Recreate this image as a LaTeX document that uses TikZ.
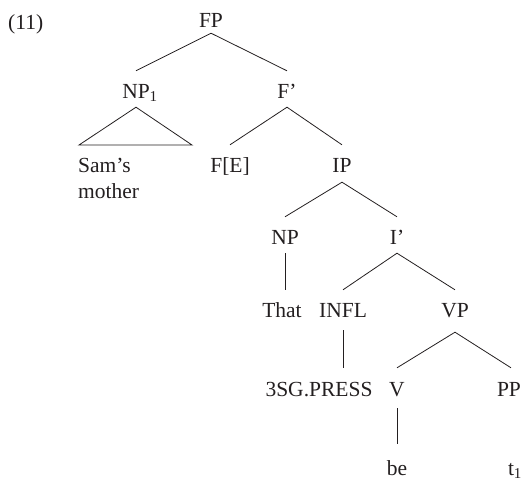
\documentclass[tikz,border=0pt]{standalone}
\usepackage{fontspec}
\setmainfont{Liberation Serif}
\definecolor{ink}{HTML}{231F20}
\begin{document}
\begin{tikzpicture}[x=1pt,y=-1pt,
  lv/.style={inner sep=0pt, anchor=base, text height=27pt, text depth=9pt, text=ink},
  edge/.style={draw=ink, line width=0.8pt},
  font=\fontsize{21.5}{26}\selectfont]
\useasboundingbox (0,0) rectangle (523,485);
\node[inner sep=0pt, anchor=base west, text=ink] (ex) at (8,29) {(11)};
% level 0
\node[lv, text depth=6pt] (FP) at (211,27) {FP};
% level 1
\node[lv] (NP1) at (136,98) {NP\rlap{\textsubscript{1}}};
\node[lv] (Fbar) at (287,98) {F’};
% level 2
\node[inner sep=0pt, anchor=base west, text=ink] (sam) at (78,172) {\vtop{\hbox{Sam’s}\hbox{mother}}};
\coordinate (triL) at (79,145);
\coordinate (triR) at (192,145);
\node[lv] (FE) at (230,172) {F[E]};
\node[lv, text depth=10pt] (IP) at (342,172) {IP};
% level 3
\node[lv] (NP) at (285,244) {NP};
\node[lv] (Ibar) at (397,244) {I’};
% level 4
\node[lv] (That) at (282,317) {That};
\node[lv, text depth=13pt] (INFL) at (343,317) {INFL};
\node[lv, text depth=15pt] (VP) at (455,317) {VP};
% level 5
\node[lv, text height=28pt] (press) at (319,396) {3SG.PRESS};
\node[lv, text height=28pt, text depth=12pt] (V) at (397,396) {V};
\node[lv, text height=28pt, text depth=12pt] (PP) at (509,396) {PP};
% level 6
\node[lv, text height=31pt] (be) at (397,475) {be};
\node[lv, text height=31pt] (t1) at (511,475) {t\rlap{\textsubscript{1}}};
% edges
\draw[edge] (NP1.north) -- (FP.south) -- (Fbar.north);
\draw[edge] (NP1.south) -- (triL) -- (triR) -- cycle;
\draw[edge] (FE.north) -- (Fbar.south) -- (IP.north);
\draw[edge] (NP.north) -- (IP.south) -- (Ibar.north);
\draw[edge] (NP.south) -- (NP.south |- That.north);
\draw[edge] (INFL.north) -- (Ibar.south) -- (VP.north);
\draw[edge] (INFL.south) -- (INFL.south |- press.north);
\draw[edge] (V.north) -- (VP.south) -- ([xshift=2pt]PP.north);
\draw[edge] (V.south) -- (be.north);
\draw[edge] ([xshift=2pt]PP.south) -- (PP.south -| t1.north);
\end{tikzpicture}
\end{document}
